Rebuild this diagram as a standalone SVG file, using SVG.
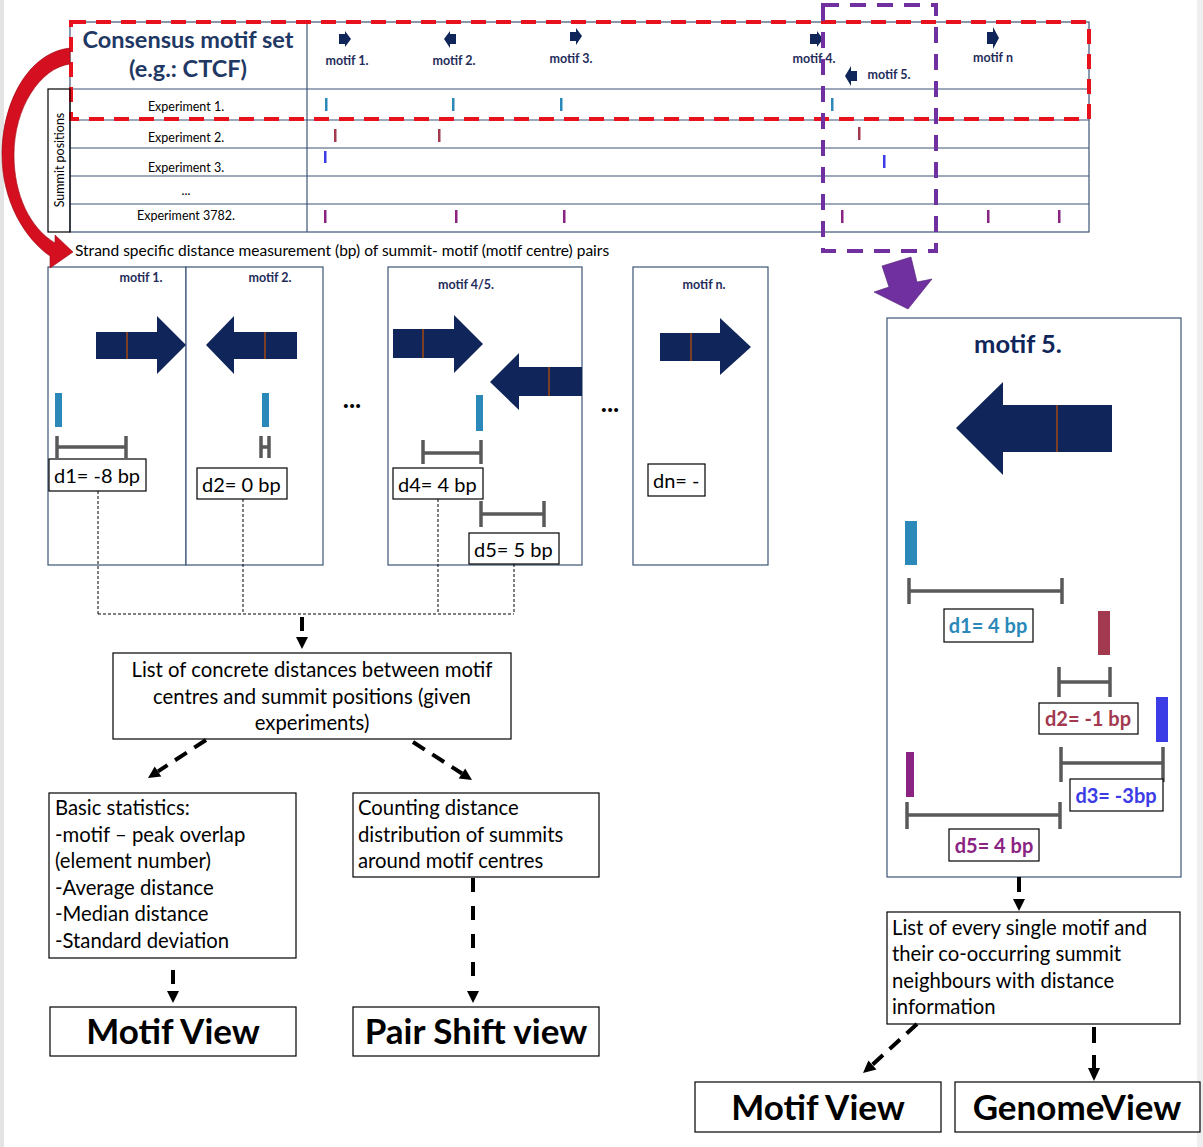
<svg xmlns="http://www.w3.org/2000/svg" width="1203" height="1147" viewBox="0 0 1203 1147">
<style>
.t{font-family:Lato,"Liberation Sans",sans-serif;fill:#000}
.grid{stroke:#3d5478;stroke-width:1.2;fill:none}
.ml{font-family:Lato,"Liberation Sans",sans-serif;font-weight:bold;fill:#1f2d5a;font-size:12.5px;text-anchor:middle}
.exp{font-family:Lato,"Liberation Sans",sans-serif;font-size:12.5px;text-anchor:middle;fill:#000}
.navy{fill:#10265a}
.brown{stroke:#7b3f26;stroke-width:2}
.panel{fill:#fff;stroke:#3d5478;stroke-width:1.2}
.box{fill:#fff;stroke:#000;stroke-width:1.2}
.br{stroke:#595959;stroke-width:3.5;fill:none}
.dl{font-family:Lato,"Liberation Sans",sans-serif;font-size:20px;fill:#000}
.bl{font-family:Lato,"Liberation Sans",sans-serif;font-size:20px;font-weight:bold;text-anchor:middle}
.body{font-family:Lato,"Liberation Sans",sans-serif;font-size:20.3px;fill:#000}
.big{font-family:Lato,"Liberation Sans",sans-serif;font-size:35px;font-weight:bold;text-anchor:middle;fill:#000}
.teal{fill:#2b89b9}.rose{fill:#a3394f}.blue{fill:#3c3ce6}.purp{fill:#8a2382}
.dot{stroke:#000;stroke-width:1;stroke-dasharray:3 2;fill:none}
.da{stroke:#000;stroke-width:4;fill:none}
.ell{font-family:Lato,"Liberation Sans",sans-serif;font-size:26px;font-weight:bold;text-anchor:middle}
</style>
<rect x="0" y="0" width="1203" height="1147" fill="#fff"/>
<rect x="0" y="0" width="4" height="1147" fill="#e4e4e4"/>
<rect x="1197" y="0" width="6" height="1147" fill="#efefef"/>

<g id="table">
  <rect class="grid" x="70" y="22" width="1019" height="210"/>
  <line class="grid" x1="70" y1="89" x2="1089" y2="89"/>
  <line class="grid" x1="70" y1="120" x2="1089" y2="120"/>
  <line class="grid" x1="70" y1="148" x2="1089" y2="148"/>
  <line class="grid" x1="70" y1="176" x2="1089" y2="176"/>
  <line class="grid" x1="70" y1="204" x2="1089" y2="204"/>
  <line class="grid" x1="307" y1="22" x2="307" y2="232"/>
  <text x="188" y="48" font-family="Lato,'Liberation Sans',sans-serif" font-weight="bold" font-size="23.5" fill="#1f3864" text-anchor="middle">Consensus motif set</text>
  <text x="188" y="77" font-family="Lato,'Liberation Sans',sans-serif" font-weight="bold" font-size="23.5" fill="#1f3864" text-anchor="middle">(e.g.: CTCF)</text>
  <text class="exp" x="186" y="111">Experiment 1.</text>
  <text class="exp" x="186" y="142">Experiment 2.</text>
  <text class="exp" x="186" y="172">Experiment 3.</text>
  <text class="exp" x="186" y="195">...</text>
  <text class="exp" x="186" y="220">Experiment 3782.</text>
  <!-- small motif arrows -->
  <polygon class="navy" points="339,34 345,34 345,31 351,39 345,47 345,44 339,44"/>
  <polygon class="navy" points="444,39 450,31 450,34 456,34 456,44 450,44 450,48"/>
  <polygon class="navy" points="570,32 576,32 576,28 582,36 576,45 576,41 570,41"/>
  <polygon class="navy" points="810,34 817,34 817,31 823,39 817,47 817,44 810,44"/>
  <polygon class="navy" points="845,76 851,66 851,71 857,71 857,81 851,81 851,86"/>
  <polygon class="navy" points="987,32 993,32 993,27 999,38 993,49 993,44 987,44"/>
  <text class="ml" x="347" y="65">motif 1.</text>
  <text class="ml" x="454" y="65">motif 2.</text>
  <text class="ml" x="571" y="63">motif 3.</text>
  <text class="ml" x="814" y="63">motif 4.</text>
  <text class="ml" x="889" y="79">motif 5.</text>
  <text class="ml" x="993" y="62">motif n</text>
  <!-- summit ticks -->
  <g class="teal"><rect x="325" y="98" width="2.5" height="13"/><rect x="452" y="98" width="2.5" height="13"/><rect x="560" y="98" width="2.5" height="13"/><rect x="831" y="98" width="2.5" height="13"/></g>
  <g class="rose"><rect x="334" y="129" width="2.5" height="13"/><rect x="438" y="129" width="2.5" height="13"/><rect x="858" y="127" width="2.5" height="13"/></g>
  <g class="blue"><rect x="324" y="151" width="2.5" height="12"/><rect x="883" y="155" width="2.5" height="13"/></g>
  <g class="purp"><rect x="324" y="210" width="2.5" height="13"/><rect x="455" y="210" width="2.5" height="13"/><rect x="563" y="210" width="2.5" height="13"/><rect x="841" y="210" width="2.5" height="13"/><rect x="987" y="210" width="2.5" height="13"/><rect x="1058" y="210" width="2.5" height="13"/></g>
  <rect x="71" y="22" width="1018" height="97" fill="none" stroke="#e8121e" stroke-width="4" stroke-dasharray="15 10"/>
</g>

<g id="summit-label">
  <rect x="48" y="89" width="22" height="143" fill="none" stroke="#000" stroke-width="1.2"/>
  <text x="0" y="0" transform="translate(63.5,160) rotate(-90)" font-family="Lato,'Liberation Sans',sans-serif" font-size="12.5" text-anchor="middle">Summit positions</text>
</g>

<g id="selection-motif5">
  <rect x="823" y="5" width="113" height="246" fill="none" stroke="#7030a0" stroke-width="4" stroke-dasharray="16 11"/>
</g>

<text class="t" x="75" y="256" font-size="15.5">Strand specific distance measurement (bp) of summit- motif (motif centre) pairs</text>

<g id="panel-motif1-2">
  <rect class="panel" x="48" y="267" width="138" height="298"/>
  <rect class="panel" x="186" y="267" width="137" height="298"/>
  <text class="ml" x="141" y="282">motif 1.</text>
  <text class="ml" x="270" y="282">motif 2.</text>
  <polygon class="navy" points="96,332 157,332 157,316 186,345 157,374 157,359 96,359"/>
  <line class="brown" x1="127" y1="332" x2="127" y2="359"/>
  <polygon class="navy" points="206,345 234,316 234,332 297,332 297,359 234,359 234,374"/>
  <line class="brown" x1="265" y1="332" x2="265" y2="359"/>
  <rect class="teal" x="55" y="393" width="7" height="34"/>
  <rect class="teal" x="262" y="393" width="7" height="34"/>
  <path class="br" d="M57,436 V458 M57,447 H126 M126,436 V458"/>
  <path class="br" d="M261,436 V458 M261,447 H269 M269,436 V458"/>
  <rect class="box" x="49" y="459" width="97" height="32"/>
  <text class="dl" x="54" y="483">d1= -8 bp</text>
  <rect class="box" x="197" y="468" width="90" height="31"/>
  <text class="dl" x="202" y="492">d2= 0 bp</text>
</g>

<text class="ell" x="352" y="408">...</text>

<g id="panel-motif4-5">
  <rect class="panel" x="388" y="267" width="194" height="298"/>
  <text class="ml" x="466" y="289">motif 4/5.</text>
  <polygon class="navy" points="393,329 454,329 454,315 483,344 454,373 454,358 393,358"/>
  <line class="brown" x1="423" y1="329" x2="423" y2="358"/>
  <polygon class="navy" points="490,382 519,353 519,367 582,367 582,396 519,396 519,410"/>
  <line class="brown" x1="549" y1="367" x2="549" y2="396"/>
  <rect class="teal" x="476" y="395" width="7" height="36"/>
  <path class="br" d="M423,440 V464 M423,453 H481 M481,440 V464"/>
  <rect class="box" x="393" y="468" width="90" height="31"/>
  <text class="dl" x="398" y="492">d4= 4 bp</text>
  <path class="br" d="M481,501 V527 M481,514 H544 M544,501 V527"/>
  <rect class="box" x="469" y="533" width="90" height="31"/>
  <text class="dl" x="474" y="557">d5= 5 bp</text>
</g>

<text class="ell" x="610" y="412">...</text>

<g id="panel-motifn">
  <rect class="panel" x="633" y="267" width="135" height="298"/>
  <text class="ml" x="704" y="289">motif n.</text>
  <polygon class="navy" points="660,333 720,333 720,318 751,347 720,375 720,361 660,361"/>
  <line class="brown" x1="691" y1="333" x2="691" y2="361"/>
  <rect class="box" x="648" y="464" width="57" height="32"/>
  <text class="dl" x="653" y="488">dn= -</text>
</g>

<g id="panel-motif5">
  <rect class="panel" x="887" y="318" width="294" height="559"/>
  <text x="1018" y="353" font-family="Lato,'Liberation Sans',sans-serif" font-size="25.5" font-weight="bold" fill="#10265a" text-anchor="middle">motif 5.</text>
  <polygon class="navy" points="956,428 1003,382 1003,405 1112,405 1112,452 1003,452 1003,475"/>
  <line class="brown" x1="1057" y1="405" x2="1057" y2="452" stroke-width="3"/>
  <rect class="teal" x="905" y="521" width="12" height="44"/>
  <path class="br" d="M909,578 V604 M909,591 H1062 M1062,578 V604"/>
  <rect class="box" x="944" y="609" width="89" height="33"/>
  <text class="bl teal" x="988" y="633">d1= 4 bp</text>
  <rect class="rose" x="1098" y="611" width="12" height="44"/>
  <path class="br" d="M1059,667 V697 M1059,682 H1110 M1110,667 V697"/>
  <rect class="box" x="1039" y="703" width="99" height="31"/>
  <text class="bl rose" x="1088" y="726">d2= -1 bp</text>
  <rect class="blue" x="1156" y="697" width="12" height="45"/>
  <path class="br" d="M1061,747 V782 M1061,763 H1163 M1163,747 V782"/>
  <rect class="box" x="1070" y="779" width="93" height="32"/>
  <text class="bl blue" x="1116" y="803">d3= -3bp</text>
  <rect class="purp" x="906" y="752" width="8" height="45"/>
  <path class="br" d="M907,802 V829 M907,815 H1060 M1060,802 V829"/>
  <rect class="box" x="949" y="829" width="90" height="32"/>
  <text class="bl purp" x="994" y="853">d5= 4 bp</text>
</g>

<g id="list-distances">
  <rect class="box" x="113" y="653" width="398" height="86"/>
  <text class="body" x="312" y="677" text-anchor="middle">List of concrete distances between motif</text>
  <text class="body" x="312" y="704" text-anchor="middle">centres and summit positions (given</text>
  <text class="body" x="312" y="730" text-anchor="middle">experiments)</text>
</g>

<g id="basic-statistics">
  <rect class="box" x="49" y="793" width="247" height="165"/>
  <text class="body" x="55" y="815">Basic statistics:</text>
  <text class="body" x="55" y="842">-motif – peak overlap</text>
  <text class="body" x="55" y="868">(element number)</text>
  <text class="body" x="55" y="895">-Average distance</text>
  <text class="body" x="55" y="921">-Median distance</text>
  <text class="body" x="55" y="948">-Standard deviation</text>
</g>

<g id="counting">
  <rect class="box" x="353" y="793" width="246" height="84"/>
  <text class="body" x="358" y="815">Counting distance</text>
  <text class="body" x="358" y="842">distribution of summits</text>
  <text class="body" x="358" y="868">around motif centres</text>
</g>

<g id="motif-view-1">
  <rect class="box" x="50" y="1007" width="246" height="49"/>
  <text class="big" x="173" y="1044">Motif View</text>
</g>

<g id="pair-shift-view">
  <rect class="box" x="353" y="1007" width="246" height="49"/>
  <text class="big" x="476" y="1044">Pair Shift view</text>
</g>

<g id="list-every-motif">
  <rect class="box" x="887" y="912" width="293" height="112"/>
  <text class="body" x="892" y="935">List of every single motif and</text>
  <text class="body" x="892" y="961">their co-occurring summit</text>
  <text class="body" x="892" y="988">neighbours with distance</text>
  <text class="body" x="892" y="1014">information</text>
</g>

<g id="motif-view-2">
  <rect class="box" x="695" y="1082" width="246" height="50"/>
  <text class="big" x="818" y="1120">Motif View</text>
</g>

<g id="genome-view">
  <rect class="box" x="955" y="1082" width="245" height="50"/>
  <text class="big" x="1077" y="1120">GenomeView</text>
</g>

<g id="connectors">
  <!-- red curved arrow -->
  <path d="M70,48 C30,52 2,100 2,155 C2,200 24,238 50,256 L50,268 L73,252 L55,235 L55,243 C30,228 14,195 14,155 C14,108 40,68 70,64 Z" fill="#d40f1f" stroke="#9e0a16" stroke-width="0.6"/>
  <!-- purple block arrow -->
  <polygon points="882,266 911,257 917,282 932,279 908,309 874,292 889,287" fill="#7030a0" stroke="#4b1f70" stroke-width="0.6"/>
  <!-- dotted collectors -->
  <path class="dot" d="M98,491 V614 M243,499 V614 M438,499 V614 M514,564 V614 M98,614 H514"/>
  <!-- dashed arrows -->
  <line class="da" x1="302" y1="617" x2="302" y2="631"/>
  <polygon points="296,637 308,637 302,649"/>
  <line class="da" x1="206" y1="740" x2="158" y2="771.4" stroke-dasharray="14 9"/>
  <polygon points="148,778 161.3,776.4 154.7,766.4"/>
  <line class="da" x1="413" y1="742" x2="462" y2="773.5" stroke-dasharray="14 9"/>
  <polygon points="472,780 465.2,768.4 458.7,778.5"/>
  <line class="da" x1="173" y1="970" x2="173" y2="984"/>
  <polygon points="167,991 179,991 173,1003"/>
  <line class="da" x1="473" y1="878" x2="473" y2="977" stroke-dasharray="14 14"/>
  <polygon points="467,991 479,991 473,1003"/>
  <line class="da" x1="1019" y1="877" x2="1019" y2="892"/>
  <polygon points="1013,899 1025,899 1019,911"/>
  <line class="da" x1="917" y1="1024" x2="872" y2="1065" stroke-dasharray="14 9"/>
  <polygon points="863,1073 876.5,1069.4 868.4,1060.5"/>
  <line class="da" x1="1094" y1="1027" x2="1094" y2="1069" stroke-dasharray="16 12"/>
  <polygon points="1088,1068 1100,1068 1094,1081"/>
</g>
</svg>
